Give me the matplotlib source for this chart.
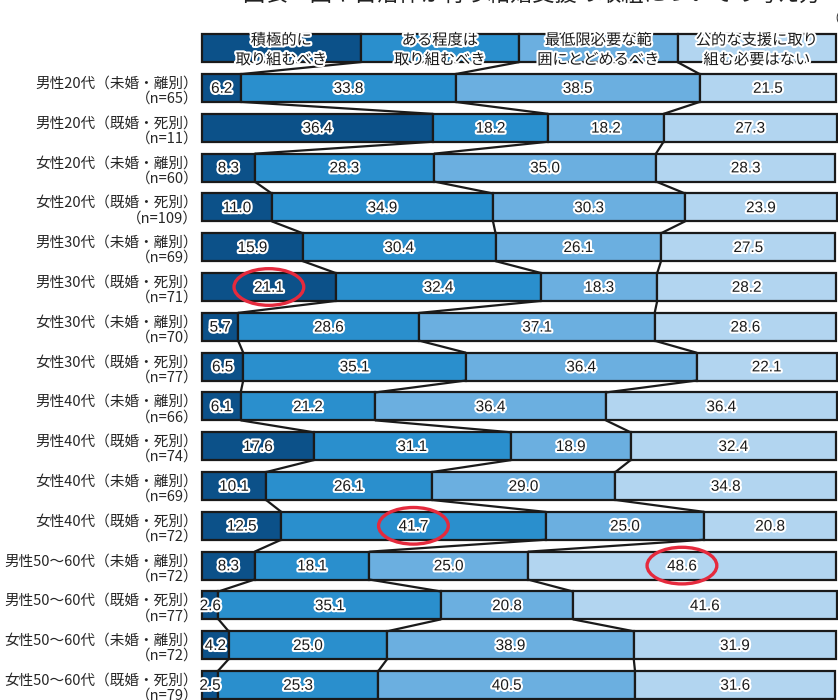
import matplotlib
matplotlib.use("Agg")
import matplotlib.pyplot as plt
import matplotlib.patheffects as pe
from matplotlib.patches import Ellipse

plt.rcParams['font.family'] = ['Noto Sans CJK JP', 'DejaVu Sans']

# ---- data -------------------------------------------------------------
series_names = ["積極的に\n取り組むべき", "ある程度は\n取り組むべき",
                "最低限必要な範\n囲にとどめるべき", "公的な支援に取り\n組む必要はない"]

groups = ["男性20代（未婚・離別）", "男性20代（既婚・死別）",
          "女性20代（未婚・離別）", "女性20代（既婚・死別）",
          "男性30代（未婚・離別）", "男性30代（既婚・死別）",
          "女性30代（未婚・離別）", "女性30代（既婚・死別）",
          "男性40代（未婚・離別）", "男性40代（既婚・死別）",
          "女性40代（未婚・離別）", "女性40代（既婚・死別）",
          "男性50～60代（未婚・離別）", "男性50～60代（既婚・死別）",
          "女性50～60代（未婚・離別）", "女性50～60代（既婚・死別）"]
sample_n = [65, 11, 60, 109, 69, 71, 70, 77, 66, 74, 69, 72, 72, 77, 72, 79]

actively = [6.2, 36.4, 8.3, 11.0, 15.9, 21.1, 5.7, 6.5, 6.1, 17.6, 10.1, 12.5, 8.3, 2.6, 4.2, 2.5]
somewhat = [33.8, 18.2, 28.3, 34.9, 30.4, 32.4, 28.6, 35.1, 21.2, 31.1, 26.1, 41.7, 18.1, 35.1, 25.0, 25.3]
minimal = [38.5, 18.2, 35.0, 30.3, 26.1, 18.3, 37.1, 36.4, 36.4, 18.9, 29.0, 25.0, 25.0, 20.8, 38.9, 40.5]
not_needed = [21.5, 27.3, 28.3, 23.9, 27.5, 28.2, 28.6, 22.1, 36.4, 32.4, 34.8, 20.8, 48.6, 41.6, 31.9, 31.6]

# highlighted values: (row, series index)
highlights = [(5, 0), (11, 1), (12, 3)]

colors = ["#0c5189", "#2a8fcd", "#6bafe0", "#b2d5f0"]
title = "図表　国や自治体が行う結婚支援の取組についての考え方（性・年代・婚姻状況別）"

# ---- figure -----------------------------------------------------------
W, H = 838, 700
fig = plt.figure(figsize=(W / 100, H / 100), dpi=100)
ax = fig.add_axes([202 / W, 0, 634 / W, 1])
ax.set_xlim(0, 100)
row0_px, step_px = 88, 39.8
ax.set_ylim((H - row0_px) / step_px, -row0_px / step_px)
ax.axis("off")

bar_h = 0.70
edge_kw = dict(edgecolor="#1a1a1a", linewidth=1.6, clip_on=False)
halo = [pe.withStroke(linewidth=3, foreground="white")]

series = [actively, somewhat, minimal, not_needed]
n_rows = len(groups)

# legend row drawn as an even split above the bars
legend_vals = [25, 25, 25, 25]
left = 0
for k, v in enumerate(legend_vals):
    ax.barh(-1, v, left=left, height=bar_h, color=colors[k], **edge_kw)
    ax.text(left + v / 2, -0.955, series_names[k], ha="center", va="center",
            fontsize=11, linespacing=1.2, color="#1a1a1a", path_effects=halo,
            zorder=6)
    left += v

cums = []
for i in range(n_rows):
    left = 0
    bounds = []
    for k in range(4):
        v = series[k][i]
        ax.barh(i, v, left=left, height=bar_h, color=colors[k], **edge_kw)
        ax.text(left + v / 2, i + 0.02, f"{v:.1f}", ha="center", va="center",
                fontsize=11, family=["Liberation Sans"], color="#1a1a1a",
                path_effects=halo, zorder=6)
        left += v
        bounds.append(left)
    cums.append(bounds[:3])
    ax.text(-0.6, i + 0.08, f"{groups[i]}\n（n={sample_n[i]}）", ha="right",
            va="center", fontsize=10.5, linespacing=1.1, color="#262626",
            clip_on=False)

# series lines joining segment boundaries of neighbouring rows
legend_cum = [25, 50, 75]
all_cums = [legend_cum] + cums
for r in range(len(all_cums) - 1):
    y_from = (r - 1) + bar_h / 2
    y_to = r - bar_h / 2
    for j in range(3):
        ax.plot([all_cums[r][j], all_cums[r + 1][j]], [y_from, y_to],
                color="#1a1a1a", linewidth=1.6, solid_capstyle="butt", zorder=1)

# red circles around highlighted values
for row, k in highlights:
    start = sum(series[m][row] for m in range(k))
    cx = start + series[k][row] / 2
    ax.add_patch(Ellipse((cx, row), width=11, height=0.92, fill=False,
                         edgecolor="#e52a3d", linewidth=2.4, zorder=7,
                         clip_on=False))

fig.text(243 / W, 1 - 6 / H, title, ha="left", va="bottom", fontsize=16,
         color="#222222")
fig.text(826 / W, 1 - 20 / H, "（%）", ha="left", va="center", fontsize=10,
         color="#333333")

fig.savefig("out.png", dpi=100)
